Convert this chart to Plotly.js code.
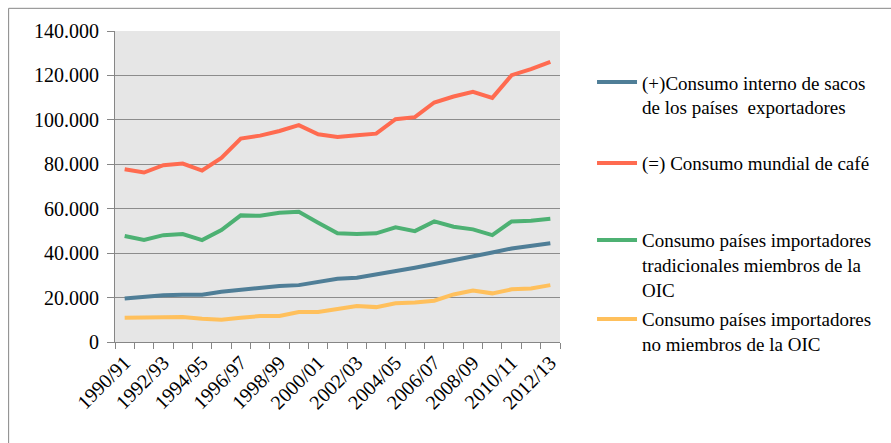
<!DOCTYPE html>
<html>
<head>
<meta charset="utf-8">
<script src="https://cdn.plot.ly/plotly-3.0.1.min.js"></script>
<style>
html,body{margin:0;padding:0;background:#fff;}
#chart{width:891px;height:443px;}
</style>
</head>
<body>
<div id="chart"></div>
<script>
const categories = ["1990/91","1991/92","1992/93","1993/94","1994/95","1995/96","1996/97","1997/98","1998/99","1999/00","2000/01","2001/02","2002/03","2003/04","2004/05","2005/06","2006/07","2007/08","2008/09","2009/10","2010/11","2011/12","2012/13"];
const consumoInterno = [19600,20500,21000,21300,21300,22600,23500,24400,25200,25600,27000,28500,28900,30300,31600,33400,35100,36700,38500,40300,42100,43500,44500];
const consumoMundial = [77800,76300,79600,80300,77200,82900,91600,92900,95000,97600,93500,92300,93100,93800,100300,101200,107800,110500,112600,109900,120100,122800,126100];
const consumoTradicionales = [47700,45900,48100,48600,45900,50400,57000,56800,58200,58600,53700,49000,48600,48900,51600,49900,54300,51900,50700,48100,54300,54600,55500];
const consumoNoMiembros = [10900,10900,10900,11200,10500,10000,10900,11700,11700,13500,13500,15000,16200,15700,17400,17800,18600,21400,23200,21900,23700,24100,25600];
const seriesNames = ["(+)Consumo interno de sacos<br>de los países  exportadores","(=) Consumo mundial de café","Consumo países importadores<br>tradicionales miembros de la<br>OIC","Consumo países importadores<br>no miembros de la OIC"];
const seriesColors = ["#4F7E97","#FF6B50","#4DB173","#FFC05C"];
const tickLabels = categories.map((c,i)=> i%2===0 ? c : "");

function fnt(s){ return {family:"Liberation Serif", size:s, color:"#000000"}; }
const allSeries = [consumoInterno, consumoMundial, consumoTradicionales, consumoNoMiembros];
const legendNames = ["legend","legend2","legend3","legend4"];
const legendY = [85,166,243,322];

const traces = allSeries.map((vals,k)=>({
  type:"scatter", mode:"lines", x:categories, y:vals, name:seriesNames[k],
  line:{color:seriesColors[k], width:4}, legend:legendNames[k], hoverinfo:"skip"
}));

const layout = {
  width:891, height:443,
  margin:{l:115, r:331, t:31, b:101},
  paper_bgcolor:"#ffffff", plot_bgcolor:"#E6E6E6",
  font:fnt(20),
  separators:",.",
  showlegend:true,
  xaxis:{type:"category", tickvals:categories, ticktext:tickLabels, tickangle:-45,
    tickson:"boundaries", ticks:"outside", ticklen:6, tickcolor:"#868686",
    showline:true, linecolor:"#868686", linewidth:1, showgrid:false, zeroline:false,
    tickfont:fnt(20), range:[-0.5,22.5]},
  yaxis:{range:[0,140000], dtick:20000, tickformat:",d", ticks:"outside", ticklen:7, tickcolor:"#868686",
    showline:true, linecolor:"#868686", linewidth:1, showgrid:true, gridcolor:"#8C8C8C", gridwidth:1,
    zeroline:false, tickfont:fnt(20), ticklabelstandoff:4},
  shapes:[{type:"rect", xref:"paper", yref:"paper", x0:(9-115.3)/444.7, x1:(900-115.3)/444.7,
    y0:(342-450)/311.3, y1:(342-8)/311.3, line:{color:"#868686", width:1}, fillcolor:"rgba(0,0,0,0)", layer:"below"}]
};
legendNames.forEach((ln,k)=>{
  layout[ln] = {x:(592-115.3)/444.7, y:(342-legendY[k]+22)/311.3, xanchor:"left", yanchor:"top",
    bgcolor:"rgba(0,0,0,0)", borderwidth:0, font:fnt(19), valign:"top", itemwidth:40, tracegroupgap:0};
});
Plotly.newPlot("chart", traces, layout, {displayModeBar:false});
</script>
</body>
</html>
